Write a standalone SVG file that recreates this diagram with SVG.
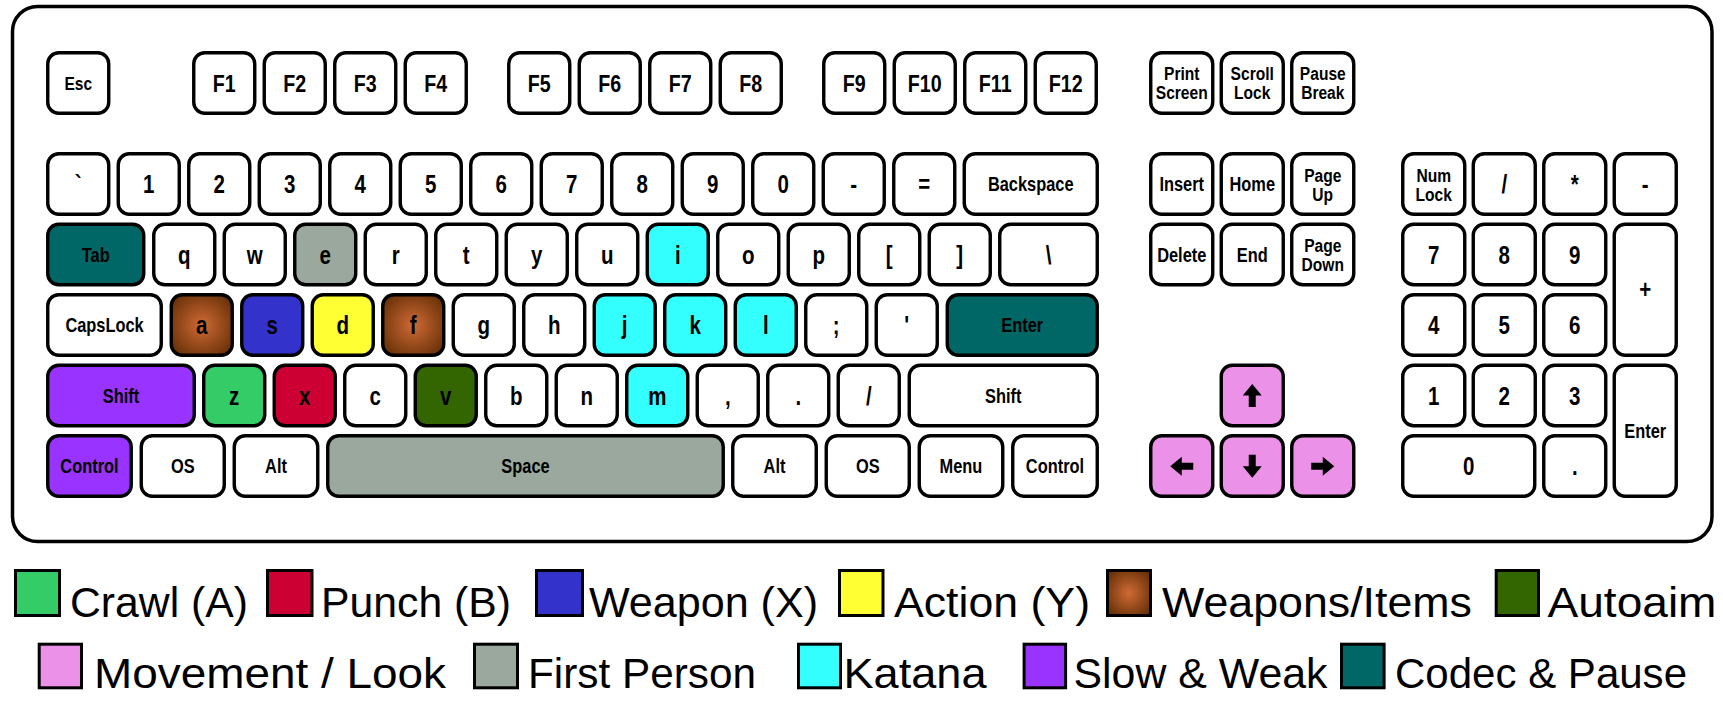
<svg xmlns="http://www.w3.org/2000/svg" width="1723" height="715" viewBox="0 0 1723 715">
<style>
.k{fill:#fff;stroke:#000;stroke-width:3.4}
.t{font-family:'Liberation Sans',Arial,sans-serif;font-weight:bold;text-anchor:middle;fill:#000;transform-box:fill-box;transform-origin:center;transform:scaleX(0.82)}
.c1{font-size:25px}.w{font-size:20px}.f{font-size:24px}.sm{font-size:19px}
.teal{fill:#006666}.gray{fill:#9aa89e}.brown{fill:url(#brown)}.blue{fill:#3333cc}.yellow{fill:#ffff33}
.green{fill:#33cc66}.red{fill:#cc0033}.dgreen{fill:#336600}.purple{fill:#9933ff}.cyan{fill:#33ffff}.pink{fill:#eb91e8}
.sw{stroke:#000;stroke-width:3}
.lg{font-family:'Liberation Sans',Arial,sans-serif;font-size:43px;fill:#000}
.arr{fill:#000}
</style>
<defs>
<radialGradient id="brown" cx="50%" cy="50%" r="60%">
<stop offset="0" stop-color="#d06a35"/>
<stop offset="1" stop-color="#6a3208"/>
</radialGradient>
<path id="arrow" d="M0,-11.5 L9.5,0 L3.5,0 L3.5,11.5 L-3.5,11.5 L-3.5,0 L-9.5,0 Z"/>
</defs>
<rect id="board" x="12.5" y="6.5" width="1699.5" height="535" rx="25" fill="#fff" stroke="#000" stroke-width="3.5"/>

<!-- Function row -->
<g id="k-esc"><rect class="k" x="47.75" y="52.75" width="61" height="60.5" rx="11"/><text class="t sm" x="78.25" y="90">Esc</text></g>
<g id="k-f1"><rect class="k" x="193.75" y="52.75" width="61" height="60.5" rx="11"/><text class="t f" x="224.25" y="92">F1</text></g>
<g id="k-f2"><rect class="k" x="264.25" y="52.75" width="61" height="60.5" rx="11"/><text class="t f" x="294.75" y="92">F2</text></g>
<g id="k-f3"><rect class="k" x="334.75" y="52.75" width="61" height="60.5" rx="11"/><text class="t f" x="365.25" y="92">F3</text></g>
<g id="k-f4"><rect class="k" x="405.25" y="52.75" width="61" height="60.5" rx="11"/><text class="t f" x="435.75" y="92">F4</text></g>
<g id="k-f5"><rect class="k" x="508.75" y="52.75" width="61" height="60.5" rx="11"/><text class="t f" x="539.25" y="92">F5</text></g>
<g id="k-f6"><rect class="k" x="579.25" y="52.75" width="61" height="60.5" rx="11"/><text class="t f" x="609.75" y="92">F6</text></g>
<g id="k-f7"><rect class="k" x="649.75" y="52.75" width="61" height="60.5" rx="11"/><text class="t f" x="680.25" y="92">F7</text></g>
<g id="k-f8"><rect class="k" x="720.25" y="52.75" width="61" height="60.5" rx="11"/><text class="t f" x="750.75" y="92">F8</text></g>
<g id="k-f9"><rect class="k" x="823.75" y="52.75" width="61" height="60.5" rx="11"/><text class="t f" x="854.25" y="92">F9</text></g>
<g id="k-f10"><rect class="k" x="894.25" y="52.75" width="61" height="60.5" rx="11"/><text class="t f" x="924.75" y="92">F10</text></g>
<g id="k-f11"><rect class="k" x="964.75" y="52.75" width="61" height="60.5" rx="11"/><text class="t f" x="995.25" y="92">F11</text></g>
<g id="k-f12"><rect class="k" x="1035.25" y="52.75" width="61" height="60.5" rx="11"/><text class="t f" x="1065.75" y="92">F12</text></g>
<g id="k-prtsc"><rect class="k" x="1150.75" y="52.75" width="62" height="60.5" rx="11"/><text class="t sm" x="1181.75" y="80.5">Print</text><text class="t sm" x="1181.75" y="99.5">Screen</text></g>
<g id="k-scrlk"><rect class="k" x="1221.25" y="52.75" width="62" height="60.5" rx="11"/><text class="t sm" x="1252.25" y="80.5">Scroll</text><text class="t sm" x="1252.25" y="99.5">Lock</text></g>
<g id="k-pause"><rect class="k" x="1291.75" y="52.75" width="62" height="60.5" rx="11"/><text class="t sm" x="1322.75" y="80.5">Pause</text><text class="t sm" x="1322.75" y="99.5">Break</text></g>

<!-- Number row -->
<g id="k-grave"><rect class="k" x="47.75" y="153.75" width="61" height="60.5" rx="11"/><text class="t c1" x="78.25" y="193.25">`</text></g>
<g id="k-1"><rect class="k" x="118.25" y="153.75" width="61" height="60.5" rx="11"/><text class="t c1" x="148.75" y="193.25">1</text></g>
<g id="k-2"><rect class="k" x="188.75" y="153.75" width="61" height="60.5" rx="11"/><text class="t c1" x="219.25" y="193.25">2</text></g>
<g id="k-3"><rect class="k" x="259.25" y="153.75" width="61" height="60.5" rx="11"/><text class="t c1" x="289.75" y="193.25">3</text></g>
<g id="k-4"><rect class="k" x="329.75" y="153.75" width="61" height="60.5" rx="11"/><text class="t c1" x="360.25" y="193.25">4</text></g>
<g id="k-5"><rect class="k" x="400.25" y="153.75" width="61" height="60.5" rx="11"/><text class="t c1" x="430.75" y="193.25">5</text></g>
<g id="k-6"><rect class="k" x="470.75" y="153.75" width="61" height="60.5" rx="11"/><text class="t c1" x="501.25" y="193.25">6</text></g>
<g id="k-7"><rect class="k" x="541.25" y="153.75" width="61" height="60.5" rx="11"/><text class="t c1" x="571.75" y="193.25">7</text></g>
<g id="k-8"><rect class="k" x="611.75" y="153.75" width="61" height="60.5" rx="11"/><text class="t c1" x="642.25" y="193.25">8</text></g>
<g id="k-9"><rect class="k" x="682.25" y="153.75" width="61" height="60.5" rx="11"/><text class="t c1" x="712.75" y="193.25">9</text></g>
<g id="k-0"><rect class="k" x="752.75" y="153.75" width="61" height="60.5" rx="11"/><text class="t c1" x="783.25" y="193.25">0</text></g>
<g id="k-minus"><rect class="k" x="823.25" y="153.75" width="61" height="60.5" rx="11"/><text class="t c1" x="853.75" y="193.25">-</text></g>
<g id="k-equal"><rect class="k" x="893.75" y="153.75" width="61" height="60.5" rx="11"/><text class="t c1" x="924.25" y="193.25">=</text></g>
<g id="k-backspace"><rect class="k" x="964.25" y="153.75" width="133" height="60.5" rx="11"/><text class="t w" x="1030.75" y="191.5">Backspace</text></g>
<g id="k-insert"><rect class="k" x="1150.75" y="153.75" width="62" height="60.5" rx="11"/><text class="t w" x="1181.75" y="191.5">Insert</text></g>
<g id="k-home"><rect class="k" x="1221.25" y="153.75" width="62" height="60.5" rx="11"/><text class="t w" x="1252.25" y="191.5">Home</text></g>
<g id="k-pgup"><rect class="k" x="1291.75" y="153.75" width="62" height="60.5" rx="11"/><text class="t sm" x="1322.75" y="181.75">Page</text><text class="t sm" x="1322.75" y="200.75">Up</text></g>
<g id="k-numlock"><rect class="k" x="1402.75" y="153.75" width="62" height="60.5" rx="11"/><text class="t sm" x="1433.75" y="181.75">Num</text><text class="t sm" x="1433.75" y="200.75">Lock</text></g>
<g id="k-npdiv"><rect class="k" x="1473.25" y="153.75" width="62" height="60.5" rx="11"/><text class="t c1" x="1504.25" y="193.25">/</text></g>
<g id="k-npmul"><rect class="k" x="1543.75" y="153.75" width="62" height="60.5" rx="11"/><text class="t c1" x="1574.75" y="193.25">*</text></g>
<g id="k-npsub"><rect class="k" x="1614.25" y="153.75" width="62" height="60.5" rx="11"/><text class="t c1" x="1645.25" y="193.25">-</text></g>

<!-- Tab row -->
<g id="k-tab"><rect class="k teal" x="47.75" y="224.25" width="96" height="60.5" rx="11"/><text class="t w" x="95.75" y="261.75">Tab</text></g>
<g id="k-q"><rect class="k" x="153.75" y="224.25" width="61" height="60.5" rx="11"/><text class="t c1" x="184.25" y="263.75">q</text></g>
<g id="k-w"><rect class="k" x="224.25" y="224.25" width="61" height="60.5" rx="11"/><text class="t c1" x="254.75" y="263.75">w</text></g>
<g id="k-e"><rect class="k gray" x="294.75" y="224.25" width="61" height="60.5" rx="11"/><text class="t c1" x="325.25" y="263.75">e</text></g>
<g id="k-r"><rect class="k" x="365.25" y="224.25" width="61" height="60.5" rx="11"/><text class="t c1" x="395.75" y="263.75">r</text></g>
<g id="k-t"><rect class="k" x="435.75" y="224.25" width="61" height="60.5" rx="11"/><text class="t c1" x="466.25" y="263.75">t</text></g>
<g id="k-y"><rect class="k" x="506.25" y="224.25" width="61" height="60.5" rx="11"/><text class="t c1" x="536.75" y="263.75">y</text></g>
<g id="k-u"><rect class="k" x="576.75" y="224.25" width="61" height="60.5" rx="11"/><text class="t c1" x="607.25" y="263.75">u</text></g>
<g id="k-i"><rect class="k cyan" x="647.25" y="224.25" width="61" height="60.5" rx="11"/><text class="t c1" x="677.75" y="263.75">i</text></g>
<g id="k-o"><rect class="k" x="717.75" y="224.25" width="61" height="60.5" rx="11"/><text class="t c1" x="748.25" y="263.75">o</text></g>
<g id="k-p"><rect class="k" x="788.25" y="224.25" width="61" height="60.5" rx="11"/><text class="t c1" x="818.75" y="263.75">p</text></g>
<g id="k-lbr"><rect class="k" x="858.75" y="224.25" width="61" height="60.5" rx="11"/><text class="t c1" x="889.25" y="263.75">[</text></g>
<g id="k-rbr"><rect class="k" x="929.25" y="224.25" width="61" height="60.5" rx="11"/><text class="t c1" x="959.75" y="263.75">]</text></g>
<g id="k-bslash"><rect class="k" x="999.75" y="224.25" width="97.5" height="60.5" rx="11"/><text class="t c1" x="1048.5" y="263.75">\</text></g>
<g id="k-delete"><rect class="k" x="1150.75" y="224.25" width="62" height="60.5" rx="11"/><text class="t w" x="1181.75" y="261.75">Delete</text></g>
<g id="k-end"><rect class="k" x="1221.25" y="224.25" width="62" height="60.5" rx="11"/><text class="t w" x="1252.25" y="261.75">End</text></g>
<g id="k-pgdn"><rect class="k" x="1291.75" y="224.25" width="62" height="60.5" rx="11"/><text class="t sm" x="1322.75" y="252.25">Page</text><text class="t sm" x="1322.75" y="271.25">Down</text></g>
<g id="k-np7"><rect class="k" x="1402.75" y="224.25" width="62" height="60.5" rx="11"/><text class="t c1" x="1433.75" y="263.75">7</text></g>
<g id="k-np8"><rect class="k" x="1473.25" y="224.25" width="62" height="60.5" rx="11"/><text class="t c1" x="1504.25" y="263.75">8</text></g>
<g id="k-np9"><rect class="k" x="1543.75" y="224.25" width="62" height="60.5" rx="11"/><text class="t c1" x="1574.75" y="263.75">9</text></g>
<g id="k-npadd"><rect class="k" x="1614.25" y="224.25" width="62" height="131" rx="11"/><text class="t c1" x="1645.25" y="298.5">+</text></g>

<!-- Home row -->
<g id="k-caps"><rect class="k" x="47.75" y="294.75" width="113.5" height="60.5" rx="11"/><text class="t w" x="104.5" y="332.25">CapsLock</text></g>
<g id="k-a"><rect class="k brown" x="171.25" y="294.75" width="61" height="60.5" rx="11"/><text class="t c1" x="201.75" y="334.25">a</text></g>
<g id="k-s"><rect class="k blue" x="241.75" y="294.75" width="61" height="60.5" rx="11"/><text class="t c1" x="272.25" y="334.25">s</text></g>
<g id="k-d"><rect class="k yellow" x="312.25" y="294.75" width="61" height="60.5" rx="11"/><text class="t c1" x="342.75" y="334.25">d</text></g>
<g id="k-f"><rect class="k brown" x="382.75" y="294.75" width="61" height="60.5" rx="11"/><text class="t c1" x="413.25" y="334.25">f</text></g>
<g id="k-g"><rect class="k" x="453.25" y="294.75" width="61" height="60.5" rx="11"/><text class="t c1" x="483.75" y="334.25">g</text></g>
<g id="k-h"><rect class="k" x="523.75" y="294.75" width="61" height="60.5" rx="11"/><text class="t c1" x="554.25" y="334.25">h</text></g>
<g id="k-j"><rect class="k cyan" x="594.25" y="294.75" width="61" height="60.5" rx="11"/><text class="t c1" x="624.75" y="334.25">j</text></g>
<g id="k-k"><rect class="k cyan" x="664.75" y="294.75" width="61" height="60.5" rx="11"/><text class="t c1" x="695.25" y="334.25">k</text></g>
<g id="k-l"><rect class="k cyan" x="735.25" y="294.75" width="61" height="60.5" rx="11"/><text class="t c1" x="765.75" y="334.25">l</text></g>
<g id="k-semi"><rect class="k" x="805.75" y="294.75" width="61" height="60.5" rx="11"/><text class="t c1" x="836.25" y="334.25">;</text></g>
<g id="k-quote"><rect class="k" x="876.25" y="294.75" width="61" height="60.5" rx="11"/><text class="t c1" x="906.75" y="334.25">'</text></g>
<g id="k-enter"><rect class="k teal" x="947.25" y="294.75" width="150" height="60.5" rx="11"/><text class="t w" x="1022.25" y="332.25">Enter</text></g>
<g id="k-np4"><rect class="k" x="1402.75" y="294.75" width="62" height="60.5" rx="11"/><text class="t c1" x="1433.75" y="334.25">4</text></g>
<g id="k-np5"><rect class="k" x="1473.25" y="294.75" width="62" height="60.5" rx="11"/><text class="t c1" x="1504.25" y="334.25">5</text></g>
<g id="k-np6"><rect class="k" x="1543.75" y="294.75" width="62" height="60.5" rx="11"/><text class="t c1" x="1574.75" y="334.25">6</text></g>

<!-- Shift row -->
<g id="k-lshift"><rect class="k purple" x="47.75" y="365.25" width="146.5" height="60.5" rx="11"/><text class="t w" x="121" y="402.75">Shift</text></g>
<g id="k-z"><rect class="k green" x="203.75" y="365.25" width="61" height="60.5" rx="11"/><text class="t c1" x="234.25" y="404.75">z</text></g>
<g id="k-x"><rect class="k red" x="274.25" y="365.25" width="61" height="60.5" rx="11"/><text class="t c1" x="304.75" y="404.75">x</text></g>
<g id="k-c"><rect class="k" x="344.75" y="365.25" width="61" height="60.5" rx="11"/><text class="t c1" x="375.25" y="404.75">c</text></g>
<g id="k-v"><rect class="k dgreen" x="415.25" y="365.25" width="61" height="60.5" rx="11"/><text class="t c1" x="445.75" y="404.75">v</text></g>
<g id="k-b"><rect class="k" x="485.75" y="365.25" width="61" height="60.5" rx="11"/><text class="t c1" x="516.25" y="404.75">b</text></g>
<g id="k-n"><rect class="k" x="556.25" y="365.25" width="61" height="60.5" rx="11"/><text class="t c1" x="586.75" y="404.75">n</text></g>
<g id="k-m"><rect class="k cyan" x="626.75" y="365.25" width="61" height="60.5" rx="11"/><text class="t c1" x="657.25" y="404.75">m</text></g>
<g id="k-comma"><rect class="k" x="697.25" y="365.25" width="61" height="60.5" rx="11"/><text class="t c1" x="727.75" y="404.75">,</text></g>
<g id="k-period"><rect class="k" x="767.75" y="365.25" width="61" height="60.5" rx="11"/><text class="t c1" x="798.25" y="404.75">.</text></g>
<g id="k-slash"><rect class="k" x="838.25" y="365.25" width="61" height="60.5" rx="11"/><text class="t c1" x="868.75" y="404.75">/</text></g>
<g id="k-rshift"><rect class="k" x="909.25" y="365.25" width="188" height="60.5" rx="11"/><text class="t w" x="1003.25" y="402.75">Shift</text></g>
<g id="k-up"><rect class="k pink" x="1221.25" y="365.25" width="62" height="60.5" rx="11"/><use href="#arrow" class="arr" transform="translate(1252.25,395.5)"/></g>
<g id="k-np1"><rect class="k" x="1402.75" y="365.25" width="62" height="60.5" rx="11"/><text class="t c1" x="1433.75" y="404.75">1</text></g>
<g id="k-np2"><rect class="k" x="1473.25" y="365.25" width="62" height="60.5" rx="11"/><text class="t c1" x="1504.25" y="404.75">2</text></g>
<g id="k-np3"><rect class="k" x="1543.75" y="365.25" width="62" height="60.5" rx="11"/><text class="t c1" x="1574.75" y="404.75">3</text></g>
<g id="k-npenter"><rect class="k" x="1614.25" y="365.25" width="62" height="131" rx="11"/><text class="t w" x="1645.25" y="437.75">Enter</text></g>

<!-- Bottom row -->
<g id="k-lctrl"><rect class="k purple" x="47.75" y="435.75" width="83.5" height="60.5" rx="11"/><text class="t w" x="89.5" y="473.25">Control</text></g>
<g id="k-los"><rect class="k" x="141.25" y="435.75" width="83" height="60.5" rx="11"/><text class="t w" x="182.75" y="473.25">OS</text></g>
<g id="k-lalt"><rect class="k" x="234.25" y="435.75" width="83.5" height="60.5" rx="11"/><text class="t w" x="276" y="473.25">Alt</text></g>
<g id="k-space"><rect class="k gray" x="327.75" y="435.75" width="395.5" height="60.5" rx="11"/><text class="t w" x="525.5" y="473.25">Space</text></g>
<g id="k-ralt"><rect class="k" x="732.75" y="435.75" width="83.5" height="60.5" rx="11"/><text class="t w" x="774.5" y="473.25">Alt</text></g>
<g id="k-ros"><rect class="k" x="826.25" y="435.75" width="83" height="60.5" rx="11"/><text class="t w" x="867.75" y="473.25">OS</text></g>
<g id="k-menu"><rect class="k" x="919.25" y="435.75" width="83.5" height="60.5" rx="11"/><text class="t w" x="961" y="473.25">Menu</text></g>
<g id="k-rctrl"><rect class="k" x="1012.75" y="435.75" width="84.5" height="60.5" rx="11"/><text class="t w" x="1055" y="473.25">Control</text></g>
<g id="k-left"><rect class="k pink" x="1150.75" y="435.75" width="62" height="60.5" rx="11"/><use href="#arrow" class="arr" transform="translate(1181.75,466.25) rotate(-90)"/></g>
<g id="k-down"><rect class="k pink" x="1221.25" y="435.75" width="62" height="60.5" rx="11"/><use href="#arrow" class="arr" transform="translate(1252.25,466.25) rotate(180)"/></g>
<g id="k-right"><rect class="k pink" x="1291.75" y="435.75" width="62" height="60.5" rx="11"/><use href="#arrow" class="arr" transform="translate(1322.75,466.25) rotate(90)"/></g>
<g id="k-np0"><rect class="k" x="1402.75" y="435.75" width="132" height="60.5" rx="11"/><text class="t c1" x="1468.75" y="475.25">0</text></g>
<g id="k-npdot"><rect class="k" x="1543.75" y="435.75" width="62" height="60.5" rx="11"/><text class="t c1" x="1574.75" y="475.25">.</text></g>

<!-- Legend -->
<g id="legend">
<g id="lg-crawl"><rect class="sw green" x="15.5" y="570.5" width="44" height="45"/><text class="lg" x="70" y="616.5" textLength="178" lengthAdjust="spacingAndGlyphs">Crawl (A)</text></g>
<g id="lg-punch"><rect class="sw red" x="267.5" y="570.5" width="44.5" height="45"/><text class="lg" x="321" y="616.5" textLength="190" lengthAdjust="spacingAndGlyphs">Punch (B)</text></g>
<g id="lg-weapon"><rect class="sw blue" x="536.5" y="570.5" width="46" height="45"/><text class="lg" x="589" y="616.5" textLength="229" lengthAdjust="spacingAndGlyphs">Weapon (X)</text></g>
<g id="lg-action"><rect class="sw yellow" x="839.5" y="570.5" width="43.5" height="45"/><text class="lg" x="894" y="616.5" textLength="196" lengthAdjust="spacingAndGlyphs">Action (Y)</text></g>
<g id="lg-items"><rect class="sw brown" x="1107.5" y="570.5" width="43" height="45"/><text class="lg" x="1162" y="616.5" textLength="310" lengthAdjust="spacingAndGlyphs">Weapons/Items</text></g>
<g id="lg-autoaim"><rect class="sw dgreen" x="1496.2" y="570.5" width="42.3" height="45"/><text class="lg" x="1547.5" y="616.5" textLength="169" lengthAdjust="spacingAndGlyphs">Autoaim</text></g>
<g id="lg-move"><rect class="sw pink" x="39.2" y="644.2" width="42.3" height="43.6"/><text class="lg" x="94" y="688" textLength="352" lengthAdjust="spacingAndGlyphs">Movement / Look</text></g>
<g id="lg-first"><rect class="sw gray" x="474.5" y="644.2" width="43" height="43.6"/><text class="lg" x="528" y="688" textLength="228" lengthAdjust="spacingAndGlyphs">First Person</text></g>
<g id="lg-katana"><rect class="sw cyan" x="798.5" y="644.2" width="42" height="43.6"/><text class="lg" x="843.5" y="688" textLength="143" lengthAdjust="spacingAndGlyphs">Katana</text></g>
<g id="lg-slow"><rect class="sw purple" x="1024.1" y="644.2" width="41.5" height="43.6"/><text class="lg" x="1073.5" y="688" textLength="254" lengthAdjust="spacingAndGlyphs">Slow &amp; Weak</text></g>
<g id="lg-codec"><rect class="sw teal" x="1341.5" y="644.2" width="42.6" height="43.6"/><text class="lg" x="1395" y="688" textLength="292" lengthAdjust="spacingAndGlyphs">Codec &amp; Pause</text></g>
</g>
</svg>
